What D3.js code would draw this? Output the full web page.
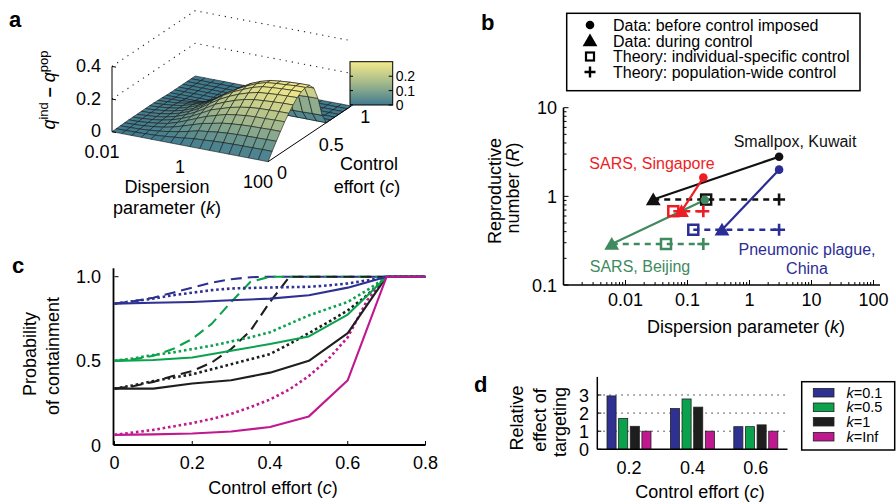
<!DOCTYPE html>
<html>
<head>
<meta charset="utf-8">
<script src="https://cdn.jsdelivr.net/npm/d3@7"></script>
<style>
  body { margin: 0; background: #fff; }
  svg { display: block; font-family: "Liberation Sans", Arial, Helvetica, sans-serif; }
</style>
</head>
<body>
<svg id="fig" width="896" height="502"></svg>
<script>
// ---------- panel a: q_ind - q_pop surface over k (log) and c ----------
const surfK = [0.01, 0.0178, 0.0316, 0.0562, 0.1, 0.178, 0.316, 0.562, 1, 1.78, 3.16, 5.62, 10, 17.8, 31.6, 56.2, 100];
const surfC = [0, 0.05, 0.1, 0.15, 0.2, 0.25, 0.3, 0.35, 0.4, 0.45, 0.5, 0.55, 0.6, 0.65, 0.7, 0.75, 0.8, 0.85, 0.9, 0.95, 1];
const surfZ = [
  [0, 0, 0, 0, 0, 0, 0, 0, 0, 0, 0, 0, 0, 0, 0, 0, 0],
  [0.001, 0.002, 0.003, 0.005, 0.007, 0.012, 0.018, 0.024, 0.032, 0.035, 0.040, 0.042, 0.044, 0.045, 0.045, 0.046, 0.046],
  [0.002, 0.003, 0.005, 0.009, 0.015, 0.024, 0.035, 0.048, 0.063, 0.070, 0.078, 0.083, 0.086, 0.088, 0.089, 0.090, 0.091],
  [0.003, 0.005, 0.008, 0.014, 0.022, 0.035, 0.053, 0.072, 0.091, 0.103, 0.116, 0.123, 0.128, 0.131, 0.132, 0.134, 0.134],
  [0.004, 0.006, 0.011, 0.018, 0.028, 0.046, 0.069, 0.094, 0.117, 0.135, 0.152, 0.161, 0.168, 0.172, 0.173, 0.175, 0.176],
  [0.004, 0.007, 0.012, 0.020, 0.033, 0.053, 0.078, 0.108, 0.140, 0.159, 0.178, 0.191, 0.201, 0.206, 0.208, 0.210, 0.211],
  [0.004, 0.008, 0.013, 0.022, 0.037, 0.059, 0.086, 0.121, 0.157, 0.182, 0.204, 0.221, 0.232, 0.237, 0.241, 0.244, 0.245],
  [0.005, 0.008, 0.014, 0.024, 0.040, 0.063, 0.093, 0.132, 0.170, 0.200, 0.225, 0.244, 0.259, 0.264, 0.269, 0.271, 0.273],
  [0.005, 0.009, 0.015, 0.025, 0.041, 0.064, 0.097, 0.138, 0.178, 0.211, 0.237, 0.261, 0.277, 0.283, 0.287, 0.290, 0.292],
  [0.005, 0.009, 0.015, 0.025, 0.042, 0.065, 0.097, 0.136, 0.177, 0.212, 0.242, 0.267, 0.285, 0.291, 0.295, 0.300, 0.301],
  [0.005, 0.008, 0.014, 0.024, 0.041, 0.063, 0.093, 0.132, 0.167, 0.207, 0.240, 0.264, 0.281, 0.288, 0.293, 0.296, 0.297],
  [0.004, 0.007, 0.011, 0.021, 0.035, 0.055, 0.080, 0.112, 0.142, 0.182, 0.214, 0.234, 0.247, 0.255, 0.259, 0.263, 0.264],
  [0.003, 0.005, 0.007, 0.014, 0.024, 0.037, 0.054, 0.076, 0.100, 0.124, 0.148, 0.161, 0.170, 0.176, 0.179, 0.182, 0.183],
  [0.001, 0.001, 0.002, 0.003, 0.005, 0.009, 0.014, 0.022, 0.031, 0.039, 0.047, 0.052, 0.056, 0.059, 0.060, 0.062, 0.062],
  [0, 0, 0, 0, 0, 0, 0, 0, 0, 0, 0, 0, 0, 0, 0, 0, 0],
  [0, 0, 0, 0, 0, 0, 0, 0, 0, 0, 0, 0, 0, 0, 0, 0, 0],
  [0, 0, 0, 0, 0, 0, 0, 0, 0, 0, 0, 0, 0, 0, 0, 0, 0],
  [0, 0, 0, 0, 0, 0, 0, 0, 0, 0, 0, 0, 0, 0, 0, 0, 0],
  [0, 0, 0, 0, 0, 0, 0, 0, 0, 0, 0, 0, 0, 0, 0, 0, 0],
  [0, 0, 0, 0, 0, 0, 0, 0, 0, 0, 0, 0, 0, 0, 0, 0, 0],
  [0, 0, 0, 0, 0, 0, 0, 0, 0, 0, 0, 0, 0, 0, 0, 0, 0]
];
const zTicksA = [0, 0.2, 0.4];
const kTicksA = [0.01, 1, 100];
const cTicksA = [0, 0.5, 1];
const cbTicks = [0, 0.1, 0.2];

// ---------- panel b: outbreaks ----------
const outbreakNames = ["Smallpox, Kuwait", "SARS, Singapore", "SARS, Beijing", "Pneumonic plague, China"];
const kBefore = [3.0, 0.18, 0.19, 3.0];
const rBefore = [2.8, 1.63, 0.91, 2.0];
const kDuring = [0.028, 0.08, 0.006, 0.36];
const rDuring = [0.92, 0.68, 0.29, 0.42];
const kIndividual = [0.2, 0.059, 0.045, 0.124];
const kPopulation = [3.0, 0.18, 0.18, 3.0];
const outbreakColors = ["#111111", "#ee1d25", "#3f8a5e", "#2b2d96"];
const legendB = ["Data: before control imposed", "Data: during control", "Theory: individual-specific control", "Theory: population-wide control"];

// ---------- panel c: probability of containment ----------
const cCoarse = [0, 0.1, 0.2, 0.3, 0.4, 0.5, 0.6, 0.7, 0.8];
const cFine = [0, 0.05, 0.1, 0.15, 0.2, 0.25, 0.3, 0.35, 0.4, 0.45, 0.5, 0.55, 0.6, 0.65, 0.7, 0.75, 0.8];
const popK01 = [0.84, 0.845, 0.85, 0.86, 0.87, 0.89, 0.935, 1, 1];
const popK05 = [0.50, 0.505, 0.52, 0.56, 0.60, 0.645, 0.775, 1, 1];
const popK1 = [0.335, 0.335, 0.365, 0.385, 0.43, 0.50, 0.665, 1, 1];
const popKInf = [0.06, 0.063, 0.068, 0.08, 0.107, 0.17, 0.385, 1, 1];
const dotK01 = [0.84, 0.855, 0.87, 0.89, 0.905, 0.92, 0.93, 0.933, 0.936, 0.938, 0.94, 0.948, 0.96, 0.978, 1, 1, 1];
const dotK05 = [0.50, 0.515, 0.535, 0.55, 0.57, 0.59, 0.615, 0.64, 0.67, 0.72, 0.77, 0.81, 0.85, 0.92, 1, 1, 1];
const dotK1 = [0.335, 0.355, 0.38, 0.40, 0.42, 0.45, 0.48, 0.51, 0.54, 0.60, 0.665, 0.73, 0.80, 0.89, 1, 1, 1];
const dotKInf = [0.06, 0.075, 0.09, 0.11, 0.13, 0.155, 0.185, 0.225, 0.27, 0.33, 0.41, 0.51, 0.64, 0.86, 1, 1, 1];
const dashK01 = [0.84, 0.855, 0.875, 0.905, 0.935, 0.965, 0.985, 0.997, 1, 1, 1, 1, 1, 1, 1, 1, 1];
const dashK05 = [0.50, 0.51, 0.53, 0.57, 0.63, 0.72, 0.85, 0.97, 1, 1, 1, 1, 1, 1, 1, 1, 1];
const dashK1 = [0.335, 0.35, 0.375, 0.41, 0.44, 0.49, 0.57, 0.68, 0.85, 1, 1, 1, 1, 1, 1, 1, 1];

// ---------- panel d: relative effect of targeting ----------
const dEfforts = [0.2, 0.4, 0.6];
const kNames = ["0.1", "0.5", "1", "Inf"];
const relK01 = [2.95, 2.25, 1.25];
const relK05 = [1.7, 2.78, 1.25];
const relK1 = [1.27, 2.33, 1.35];
const relKInf = [1, 1, 1];

const kColors = ["#2e3192", "#0ba24e", "#1e1e1e", "#c0188f"];

const svg = d3.select("#fig");

function panelLetter(x, y, t) {
  svg.append("text").attr("x", x).attr("y", y).text(t)
    .style("font-size", "22px").style("font-weight", "bold");
}

// ================= panel a =================
drawSurface();

function drawSurface() {
  const g = svg.append("g");
  const kA = d3.scaleLog().domain([0.01, 100]).range([0, 1]);
  const cA = d3.scaleLinear().domain([0, 1]).range([0, 1]);
  const zA = d3.scaleLinear().domain([0, 0.4]).range([0, 65.3]);
  const origin = [112, 131.7], kVec = [156, 30], cVec = [83.3, -55.7];

  function proj(k, c, z) {
    const u = kA(k), v = cA(c);
    return [origin[0] + u * kVec[0] + v * cVec[0], origin[1] + u * kVec[1] + v * cVec[1] - zA(z)];
  }

  // dotted grid lines on the back walls
  zTicksA.filter(z => z > 0).forEach(function (z) {
    const pts = [proj(0.01, 0, z), proj(0.01, 1, z), proj(100, 1, z)];
    g.append("path").attr("d", "M" + pts.join("L"))
      .attr("fill", "none").attr("stroke", "#222").attr("stroke-width", 1.1)
      .attr("stroke-dasharray", "1.2,5");
  });

  const zMax = d3.max(surfZ.flat());
  const color = d3.scaleLinear().domain([0, zMax * 0.5, zMax])
    .range(["#3f7b8f", "#a2b88c", "#f4ea8a"]);

  const cells = [];
  for (let i = 0; i < surfC.length - 1; i++) {
    for (let j = 0; j < surfK.length - 1; j++) {
      const corners = [[i, j], [i, j + 1], [i + 1, j + 1], [i + 1, j]];
      cells.push({
        pts: corners.map(([a, b]) => proj(surfK[b], surfC[a], surfZ[a][b])),
        z: d3.mean(corners, ([a, b]) => surfZ[a][b]),
        depth: proj(Math.sqrt(surfK[j] * surfK[j + 1]), (surfC[i] + surfC[i + 1]) / 2, 0)[1]
      });
    }
  }
  cells.sort((a, b) => a.depth - b.depth);

  g.selectAll("path.cell")
    .data(cells)
    .join("path")
    .attr("class", "cell")
    .attr("d", d => "M" + d.pts.join("L") + "Z")
    .attr("fill", d => color(d.z))
    .attr("stroke", "#161616")
    .attr("stroke-width", 0.6)
    .attr("stroke-linejoin", "round");

  // z axis
  const z0 = proj(0.01, 0, 0), z1 = proj(0.01, 0, 0.4);
  g.append("line").attr("x1", z0[0]).attr("y1", z0[1]).attr("x2", z1[0]).attr("y2", z1[1])
    .attr("stroke", "#000").attr("stroke-width", 1);
  zTicksA.forEach(function (z) {
    const p = proj(0.01, 0, z);
    g.append("line").attr("x1", p[0]).attr("y1", p[1]).attr("x2", p[0] + 4).attr("y2", p[1] + 0.8)
      .attr("stroke", "#000");
    g.append("text").attr("x", p[0] - 11).attr("y", p[1] + 5.5).attr("text-anchor", "end")
      .style("font-size", "18px").text(z === 0 ? "0" : d3.format(".1f")(z));
  });

  // c axis along k = 100
  const c0 = proj(100, 0, 0), c1 = proj(100, 1, 0);
  g.append("line").attr("x1", c0[0]).attr("y1", c0[1]).attr("x2", c1[0]).attr("y2", c1[1])
    .attr("stroke", "#000").attr("stroke-width", 1);
  cTicksA.forEach(function (c) {
    const p = proj(100, c, 0);
    g.append("text").attr("x", p[0] + 9).attr("y", p[1] + 17)
      .style("font-size", "18px").text(c);
  });

  kTicksA.forEach(function (k) {
    const p = proj(k, 0, 0);
    g.append("text").attr("x", p[0] - 10).attr("y", p[1] + 26.5).attr("text-anchor", "middle")
      .style("font-size", "18px").text(k);
  });

  // colour bar
  const cbX = 350, cbW = 42.7, cbY0 = 105, cbY1 = 61.7;
  const cbScale = d3.scaleLinear().domain([0, zMax]).range([cbY0, cbY1]);
  const grad = svg.append("defs").append("linearGradient").attr("id", "cbGrad")
    .attr("x1", 0).attr("y1", 1).attr("x2", 0).attr("y2", 0);
  d3.range(0, 1.0001, 0.1).forEach(t => grad.append("stop").attr("offset", t).attr("stop-color", color(t * zMax)));
  g.append("rect").attr("x", cbX).attr("y", cbY1).attr("width", cbW).attr("height", cbY0 - cbY1)
    .attr("fill", "url(#cbGrad)").attr("stroke", "#000").attr("stroke-width", 1);
  cbTicks.forEach(function (t) {
    const y = cbScale(t);
    g.append("line").attr("x1", cbX + cbW - 4).attr("x2", cbX + cbW).attr("y1", y).attr("y2", y).attr("stroke", "#000");
    g.append("line").attr("x1", cbX).attr("x2", cbX + 3).attr("y1", y).attr("y2", y).attr("stroke", "#000");
    g.append("text").attr("x", cbX + cbW + 3).attr("y", y + 5).style("font-size", "14px").text(t);
  });

  // labels
  g.append("text").attr("x", 167).attr("y", 193).attr("text-anchor", "middle").style("font-size", "18px").text("Dispersion");
  const pk = g.append("text").attr("x", 167).attr("y", 214).attr("text-anchor", "middle").style("font-size", "18px");
  pk.append("tspan").text("parameter (");
  pk.append("tspan").style("font-style", "italic").text("k");
  pk.append("tspan").text(")");
  g.append("text").attr("x", 369).attr("y", 170).attr("text-anchor", "middle").style("font-size", "18px").text("Control");
  const ec = g.append("text").attr("x", 367).attr("y", 193).attr("text-anchor", "middle").style("font-size", "18px");
  ec.append("tspan").text("effort (");
  ec.append("tspan").style("font-style", "italic").text("c");
  ec.append("tspan").text(")");

  const ql = g.append("text").attr("transform", "translate(55,90) rotate(-90)")
    .attr("text-anchor", "middle").style("font-size", "18px");
  ql.append("tspan").style("font-style", "italic").text("q");
  ql.append("tspan").attr("dy", -7).style("font-size", "13px").text("ind");
  ql.append("tspan").attr("dy", 7).style("font-weight", "bold").text(" \u2013 ");
  ql.append("tspan").style("font-style", "italic").text("q");
  ql.append("tspan").attr("dy", -7).style("font-size", "13px").text("pop");

  panelLetter(9, 27, "a");
}

// ================= panel b =================
drawOutbreaks();

function drawOutbreaks() {
  const g = svg.append("g");
  const x = d3.scaleLog().domain([0.001, 100]).range([563.5, 873.5]);
  const y = d3.scaleLog().domain([0.1, 10]).range([285, 107.7]);

  // axes
  g.append("line").attr("x1", x(0.001)).attr("x2", 880).attr("y1", y(0.1)).attr("y2", y(0.1))
    .attr("stroke", "#000").attr("stroke-width", 1.6);
  g.append("line").attr("x1", x(0.001)).attr("x2", x(0.001)).attr("y1", y(0.1)).attr("y2", y(10))
    .attr("stroke", "#000").attr("stroke-width", 1.6);
  const xMinor = [];
  [0.001, 0.01, 0.1, 1, 10].forEach(d => d3.range(1, 10).forEach(m => xMinor.push(d * m)));
  xMinor.push(100);
  g.selectAll("line.xt").data(xMinor).join("line").attr("class", "xt")
    .attr("x1", d => x(d)).attr("x2", d => x(d))
    .attr("y1", y(0.1)).attr("y2", d => y(0.1) - (Math.abs(Math.log10(d) % 1) < 1e-6 ? 5 : 3))
    .attr("stroke", "#000").attr("stroke-width", 1);
  const yMinor = [];
  [0.1, 1].forEach(d => d3.range(1, 10).forEach(m => yMinor.push(d * m)));
  yMinor.push(10);
  g.selectAll("line.yt").data(yMinor).join("line").attr("class", "yt")
    .attr("y1", d => y(d)).attr("y2", d => y(d))
    .attr("x1", x(0.001)).attr("x2", d => x(0.001) + (Math.abs(Math.log10(d) % 1) < 1e-6 ? 5 : 3))
    .attr("stroke", "#000").attr("stroke-width", 1);
  [0.01, 0.1, 1, 10, 100].forEach(function (d) {
    g.append("text").attr("x", x(d)).attr("y", 306).attr("text-anchor", "middle")
      .style("font-size", "18px").text(d);
  });
  [0.1, 1, 10].forEach(function (d) {
    g.append("text").attr("x", 557).attr("y", y(d) + 6.5).attr("text-anchor", "end")
      .style("font-size", "18px").text(d);
  });
  const xl = g.append("text").attr("x", 746).attr("y", 333).attr("text-anchor", "middle").style("font-size", "18px");
  xl.append("tspan").text("Dispersion parameter (");
  xl.append("tspan").style("font-style", "italic").text("k");
  xl.append("tspan").text(")");
  g.append("text").attr("transform", "translate(501,191) rotate(-90)").attr("text-anchor", "middle")
    .style("font-size", "18px").text("Reproductive");
  const yl = g.append("text").attr("transform", "translate(519,188) rotate(-90)").attr("text-anchor", "middle")
    .style("font-size", "18px");
  yl.append("tspan").text("number (");
  yl.append("tspan").style("font-style", "italic").text("R");
  yl.append("tspan").text(")");

  const tri = d3.symbol().type(d3.symbolTriangle).size(95);

  outbreakNames.forEach(function (name, i) {
    const col = outbreakColors[i];
    const theoryK = [kDuring[i], kIndividual[i], kPopulation[i]].sort((a, b) => a - b);
    g.append("path")
      .attr("d", d3.line()(theoryK.map(k => [x(k), y(rDuring[i])])))
      .attr("stroke", col).attr("stroke-width", 2.6).attr("stroke-dasharray", "6,5").attr("fill", "none");
    g.append("line")
      .attr("x1", x(kBefore[i])).attr("y1", y(rBefore[i]))
      .attr("x2", x(kDuring[i])).attr("y2", y(rDuring[i]))
      .attr("stroke", col).attr("stroke-width", 2.2);
  });
  outbreakNames.forEach(function (name, i) {
    const col = outbreakColors[i];
    g.append("circle").attr("cx", x(kBefore[i])).attr("cy", y(rBefore[i])).attr("r", 4.3).attr("fill", col);
    g.append("path").attr("d", tri).attr("fill", col)
      .attr("transform", `translate(${x(kDuring[i])},${y(rDuring[i]) + 1.5})`);
    g.append("rect").attr("x", x(kIndividual[i]) - 5).attr("y", y(rDuring[i]) - 5)
      .attr("width", 10).attr("height", 10).attr("fill", "none").attr("stroke", col).attr("stroke-width", 2.5);
    const px = x(kPopulation[i]), py = y(rDuring[i]);
    g.append("path").attr("d", `M${px - 6},${py}H${px + 6}M${px},${py - 6}V${py + 6}`)
      .attr("stroke", col).attr("stroke-width", 2.6);
  });

  // outbreak labels
  const labelPos = [[795, 147, ["Smallpox, Kuwait"]], [652, 169, ["SARS, Singapore"]],
                    [640, 272, ["SARS, Beijing"]], [807, 255, ["Pneumonic plague,", "China"]]];
  labelPos.forEach(function (l, i) {
    l[2].forEach(function (line, j) {
      g.append("text").attr("x", l[0]).attr("y", l[1] + j * 18.5).attr("text-anchor", "middle")
        .attr("fill", outbreakColors[i]).style("font-size", "16px").text(line);
    });
  });

  // legend
  g.append("rect").attr("x", 566.7).attr("y", 13.3).attr("width", 293.3).attr("height", 77.4)
    .attr("fill", "#fff").attr("stroke", "#000").attr("stroke-width", 1.5);
  const rows = [25, 41, 56.5, 72];
  legendB.forEach(function (t, i) {
    const cy = rows[i];
    if (i === 0) g.append("circle").attr("cx", 590).attr("cy", cy).attr("r", 4.3).attr("fill", "#000");
    if (i === 1) g.append("path").attr("d", tri).attr("transform", `translate(590,${cy + 1})`).attr("fill", "#000");
    if (i === 2) g.append("rect").attr("x", 586).attr("y", cy - 4).attr("width", 8).attr("height", 8)
      .attr("fill", "none").attr("stroke", "#000").attr("stroke-width", 2.2);
    if (i === 3) g.append("path").attr("d", `M584.5,${cy}H595.5M590,${cy - 5.5}V${cy + 5.5}`)
      .attr("stroke", "#000").attr("stroke-width", 2.4);
    g.append("text").attr("x", 613).attr("y", cy + 5.5).style("font-size", "16px").text(t);
  });

  panelLetter(481, 30, "b");
}

// ================= panel c =================
drawContainment();

function drawContainment() {
  const g = svg.append("g");
  const x = d3.scaleLinear().domain([0, 0.8]).range([114.5, 425.5]);
  const y = d3.scaleLinear().domain([0, 1]).range([445, 276.7]);

  g.append("line").attr("x1", x(0) - 1).attr("x2", x(0.8)).attr("y1", y(0)).attr("y2", y(0))
    .attr("stroke", "#000").attr("stroke-width", 1.8);
  g.append("line").attr("x1", x(0) - 1).attr("x2", x(0) - 1).attr("y1", y(0)).attr("y2", y(1.05))
    .attr("stroke", "#000").attr("stroke-width", 1.8);
  [0, 0.2, 0.4, 0.6, 0.8].forEach(function (d) {
    g.append("line").attr("x1", x(d)).attr("x2", x(d)).attr("y1", y(0)).attr("y2", y(0) - 4).attr("stroke", "#000");
    g.append("text").attr("x", x(d)).attr("y", 469).attr("text-anchor", "middle")
      .style("font-size", "18px").text(d === 0 ? "0" : d3.format(".1f")(d));
  });
  [0, 0.5, 1].forEach(function (d) {
    g.append("line").attr("x1", x(0)).attr("x2", x(0) + 4).attr("y1", y(d)).attr("y2", y(d)).attr("stroke", "#000");
    g.append("text").attr("x", 101).attr("y", y(d) + 6.5).attr("text-anchor", "end")
      .style("font-size", "18px").text(d === 0 ? "0" : d3.format(".1f")(d));
  });
  const xl = g.append("text").attr("x", 273).attr("y", 494).attr("text-anchor", "middle").style("font-size", "18px");
  xl.append("tspan").text("Control effort (");
  xl.append("tspan").style("font-style", "italic").text("c");
  xl.append("tspan").text(")");
  g.append("text").attr("transform", "translate(36,354) rotate(-90)").attr("text-anchor", "middle")
    .style("font-size", "18px").text("Probability");
  g.append("text").attr("transform", "translate(59,356) rotate(-90)").attr("text-anchor", "middle")
    .style("font-size", "18px").text("of containment");

  const series = [
    { c: cFine, v: dashK01, col: kColors[0], dash: "11,6" },
    { c: cFine, v: dashK05, col: kColors[1], dash: "11,6" },
    { c: cFine, v: dashK1, col: kColors[2], dash: "11,6" },
    { c: cFine, v: dotKInf, col: kColors[3], dash: "2.6,2.8" },
    { c: cFine, v: dotK1, col: kColors[2], dash: "2.6,2.8" },
    { c: cFine, v: dotK05, col: kColors[1], dash: "2.6,2.8" },
    { c: cFine, v: dotK01, col: kColors[0], dash: "2.6,2.8" },
    { c: cCoarse, v: popK1, col: kColors[2], dash: null },
    { c: cCoarse, v: popK05, col: kColors[1], dash: null },
    { c: cCoarse, v: popK01, col: kColors[0], dash: null },
    { c: cCoarse, v: popKInf, col: kColors[3], dash: null }
  ];
  const line = d3.line().x(d => x(d[0])).y(d => y(d[1]));
  series.forEach(function (s) {
    g.append("path")
      .attr("d", line(s.c.map((c, i) => [c, s.v[i]])))
      .attr("fill", "none").attr("stroke", s.col)
      .attr("stroke-width", s.dash && s.dash.startsWith("2.6") ? 2.6 : 2.1)
      .attr("stroke-dasharray", s.dash)
      .attr("stroke-linejoin", "round");
  });

  panelLetter(12, 273, "c");
}

// ================= panel d =================
drawTargeting();

function drawTargeting() {
  const g = svg.append("g");
  const x = d3.scaleLinear().domain([0.1, 0.7]).range([597.3, 787.5]);
  const y = d3.scaleLinear().domain([0, 4]).range([449.3, 376.9]);
  const sub = d3.scaleBand().domain(kNames).range([-22, 22]).paddingInner(0.22);
  const values = [relK01, relK05, relK1, relKInf];

  [1, 2, 3].forEach(function (d) {
    g.append("line").attr("x1", x(0.1)).attr("x2", x(0.7)).attr("y1", y(d)).attr("y2", y(d))
      .attr("stroke", "#333").attr("stroke-width", 1).attr("stroke-dasharray", "1.5,4.5");
  });

  kNames.forEach(function (kn, ki) {
    g.selectAll("rect.b" + ki)
      .data(dEfforts.map((c, i) => ({ c: c, v: values[ki][i] })))
      .join("rect")
      .attr("class", "b" + ki)
      .attr("x", d => x(d.c) + sub(kn))
      .attr("width", sub.bandwidth())
      .attr("y", d => y(d.v))
      .attr("height", d => y(0) - y(d.v))
      .attr("fill", kColors[ki])
      .attr("stroke", "#222").attr("stroke-width", 0.8);
  });

  g.append("line").attr("x1", x(0.1)).attr("x2", x(0.7)).attr("y1", y(0)).attr("y2", y(0))
    .attr("stroke", "#000").attr("stroke-width", 1.5);
  g.append("line").attr("x1", x(0.1)).attr("x2", x(0.1)).attr("y1", y(0)).attr("y2", y(4))
    .attr("stroke", "#000").attr("stroke-width", 1.5);
  [0, 1, 2, 3].forEach(function (d) {
    g.append("line").attr("x1", x(0.1)).attr("x2", x(0.1) + 4).attr("y1", y(d)).attr("y2", y(d)).attr("stroke", "#000");
    g.append("text").attr("x", 589).attr("y", y(d) + 6.5).attr("text-anchor", "end")
      .style("font-size", "18px").text(d);
  });
  dEfforts.forEach(function (d) {
    g.append("text").attr("x", x(d)).attr("y", 474).attr("text-anchor", "middle")
      .style("font-size", "18px").text(d3.format(".1f")(d));
  });
  const xl = g.append("text").attr("x", 700).attr("y", 498).attr("text-anchor", "middle").style("font-size", "18px");
  xl.append("tspan").text("Control effort (");
  xl.append("tspan").style("font-style", "italic").text("c");
  xl.append("tspan").text(")");
  [["Relative", 523, 418], ["effect of", 546, 420], ["targeting", 566, 422]].forEach(function (l) {
    g.append("text").attr("transform", `translate(${l[1]},${l[2]}) rotate(-90)`).attr("text-anchor", "middle")
      .style("font-size", "18px").text(l[0]);
  });

  // legend
  g.append("rect").attr("x", 801.7).attr("y", 381.7).attr("width", 93).attr("height", 68.3)
    .attr("fill", "#fff").attr("stroke", "#000").attr("stroke-width", 1.5);
  const rows = [392.7, 407.3, 421.7, 436.7];
  kNames.forEach(function (kn, i) {
    g.append("rect").attr("x", 813.3).attr("y", rows[i] - 4.3).attr("width", 20.7).attr("height", 8.6)
      .attr("fill", kColors[i]).attr("stroke", "#222").attr("stroke-width", 0.8);
    const t = g.append("text").attr("x", 846.5).attr("y", rows[i] + 5).style("font-size", "14.5px");
    t.append("tspan").style("font-style", "italic").text("k");
    t.append("tspan").text("=" + kn);
  });

  panelLetter(474, 392, "d");
}
</script>
</body>
</html>
